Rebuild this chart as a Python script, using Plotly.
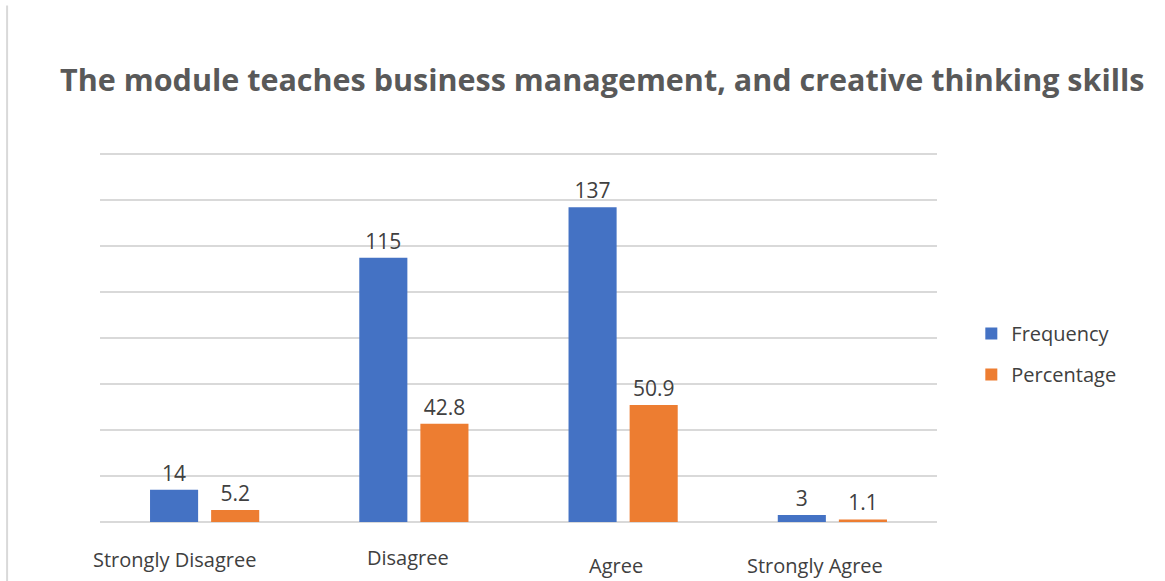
import plotly.graph_objects as go

# Survey responses
categories = ["Strongly Disagree", "Disagree", "Agree", "Strongly Agree"]
frequency = [14, 115, 137, 3]
percentage = [5.2, 42.8, 50.9, 1.1]

# Category label offsets (px) below the axis
label_xshift = [-30, -6, -7, -17]
label_yshift = [-37, -35, -43, -43]

BLUE = "#4472C4"
ORANGE = "#ED7D31"
TEXT = "#404040"
FONT = "Open Sans"

fig = go.Figure()
fig.add_trace(go.Bar(
    x=categories, y=frequency, name="Frequency",
    marker=dict(color=BLUE, line=dict(width=0)),
    text=[str(v) for v in frequency], textposition="outside",
    textfont=dict(family=FONT, size=21, color=TEXT),
    cliponaxis=False, legendgroup="f",
))
fig.add_trace(go.Bar(
    x=categories, y=percentage, name="Percentage",
    marker=dict(color=ORANGE, line=dict(width=0)),
    text=[str(v) for v in percentage], textposition="outside",
    textfont=dict(family=FONT, size=21, color=TEXT),
    cliponaxis=False, legendgroup="p",
))

for cat, dx, dy in zip(categories, label_xshift, label_yshift):
    fig.add_annotation(
        x=cat, y=0, xref="x", yref="y", text=cat, showarrow=False,
        xshift=dx, yshift=dy, yanchor="middle",
        font=dict(family=FONT, size=20, color=TEXT),
    )

# thin frame line on the left edge
fig.add_shape(type="line", xref="paper", yref="paper",
              x0=-0.111, x1=-0.111, y0=-0.16, y1=1.40,
              line=dict(color="#d9d9d9", width=2))

fig.update_layout(
    width=1165, height=581,
    margin=dict(l=100, r=228, t=153, b=59),
    paper_bgcolor="white", plot_bgcolor="white",
    barmode="group", bargap=0.416, bargroupgap=0.213,
    title=dict(
        text="<b>The module teaches business management, and creative thinking skills</b>",
        font=dict(family=FONT, size=30.5, color="#595959"),
        x=0.517, xanchor="center", y=0.862, yanchor="middle",
    ),
    xaxis=dict(range=[-0.5, len(categories) - 0.5], autorange=False,
               showticklabels=False, showgrid=False, zeroline=False,
               showline=False, ticks=""),
    yaxis=dict(range=[0, 160.6], tickvals=[20, 40, 60, 80, 100, 120, 140, 160],
               showticklabels=False,
               showgrid=True, gridcolor="#d9d9d9", gridwidth=2,
               zeroline=True, zerolinecolor="#d9d9d9", zerolinewidth=2,
               showline=False, ticks=""),
    legend=dict(
        x=1.041, xanchor="left", y=0.455, yanchor="middle",
        font=dict(family=FONT, size=20, color=TEXT),
        traceorder="grouped", tracegroupgap=12,
        bgcolor="rgba(0,0,0,0)",
    ),
    showlegend=True,
)

fig.write_html("out.html")
